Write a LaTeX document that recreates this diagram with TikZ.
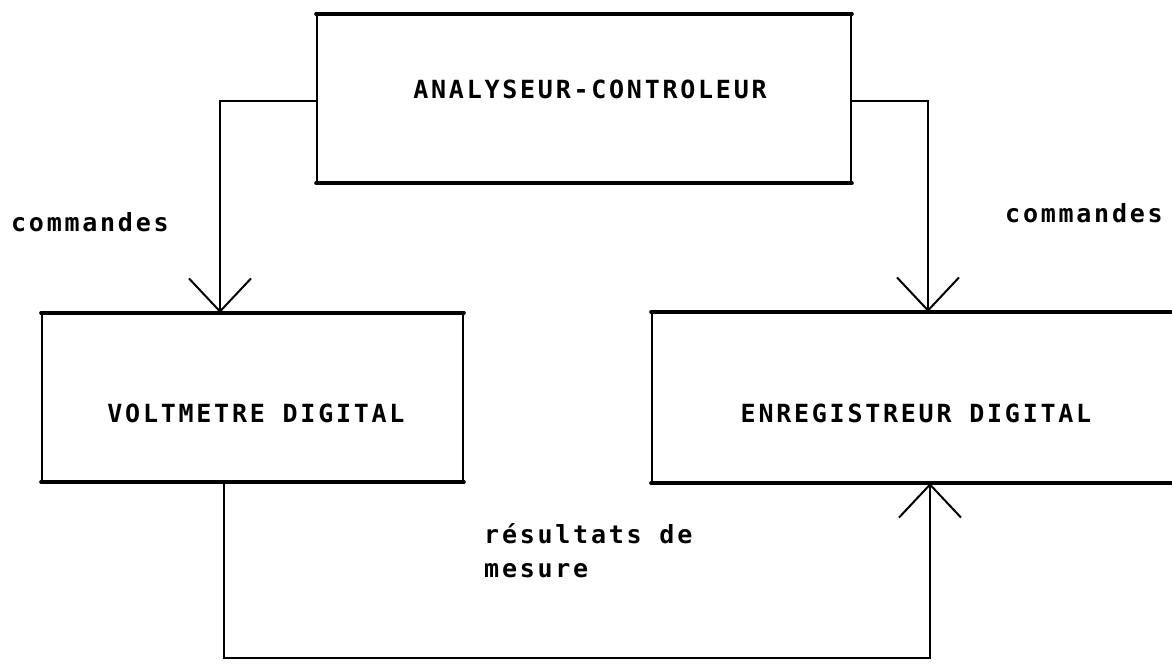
\documentclass[tikz,border=0pt]{standalone}
\usepackage{fontspec}
\newfontfamily\plotfont[LetterSpace=11]{DejaVu Sans Mono Bold}
\usetikzlibrary{arrows.meta}
\begin{document}
\begin{tikzpicture}[x=1pt,y=-1pt,
  box/.style={draw, rectangle, line width=2.2pt, inner sep=0pt},
  edge/.style={line width=3.4pt, line cap=round},
  conn/.style={line width=2pt, line join=miter},
  tip/.style={-{Straight Barb[length=33pt,width=62pt,line width=2pt]}},
  lbl/.style={font=\plotfont\fontsize{25}{30}\selectfont, inner sep=0pt}]
\useasboundingbox (0,0) rectangle (1172,665);
\fill[white] (0,0) rectangle (1172,665);
\clip (0,0) rectangle (1172,665);
% boxes
\node[box, minimum width=534pt, minimum height=167pt] (top) at (584,98.5) {};
\node[box, minimum width=421pt, minimum height=167pt] (volt) at (252.5,397.5) {};
\node[box, minimum width=540pt, minimum height=169pt] (enreg) at (922,397.5) {};
% thicker horizontal edges, as the plotter drew them
\draw[edge] (top.north west) -- (top.north east);
\draw[edge] (top.south west) -- (top.south east);
\draw[edge] (volt.north west) -- (volt.north east);
\draw[edge] (volt.south west) -- (volt.south east);
\draw[edge] (enreg.north west) -- (enreg.north east);
\draw[edge] (enreg.south west) -- (enreg.south east);
% box texts
\node[lbl, anchor=base] (ttop) at (590,98) {ANALYSEUR-CONTROLEUR};
\node[lbl, anchor=base] (tvolt) at (256,422) {VOLTMETRE DIGITAL};
\node[lbl, anchor=base] (tenreg) at (916,422) {ENREGISTREUR DIGITAL};
% connector labels
\node[lbl, anchor=base west] (cmdL) at (11,231) {commandes};
\node[lbl, anchor=base west] (cmdR) at (1005,222) {commandes};
\node[lbl, anchor=base west] (res1) at (484,543) {résultats de};
\node[lbl, anchor=base west] (res2) at (484,577) {mesure};
% connectors
\coordinate (c1) at (220,101);
\coordinate (c2) at (928,101);
\coordinate (c3) at (224,658);
\coordinate (c4) at (930,658);
\draw[conn, tip] (top.west |- c1) -- (c1) -- (c1 |- volt.north);
\draw[conn, tip] (top.east |- c2) -- (c2) -- (c2 |- enreg.north);
\draw[conn, tip] (c3 |- volt.south) -- (c3) -- (c4) -- (c4 |- enreg.south);
\end{tikzpicture}
\end{document}
